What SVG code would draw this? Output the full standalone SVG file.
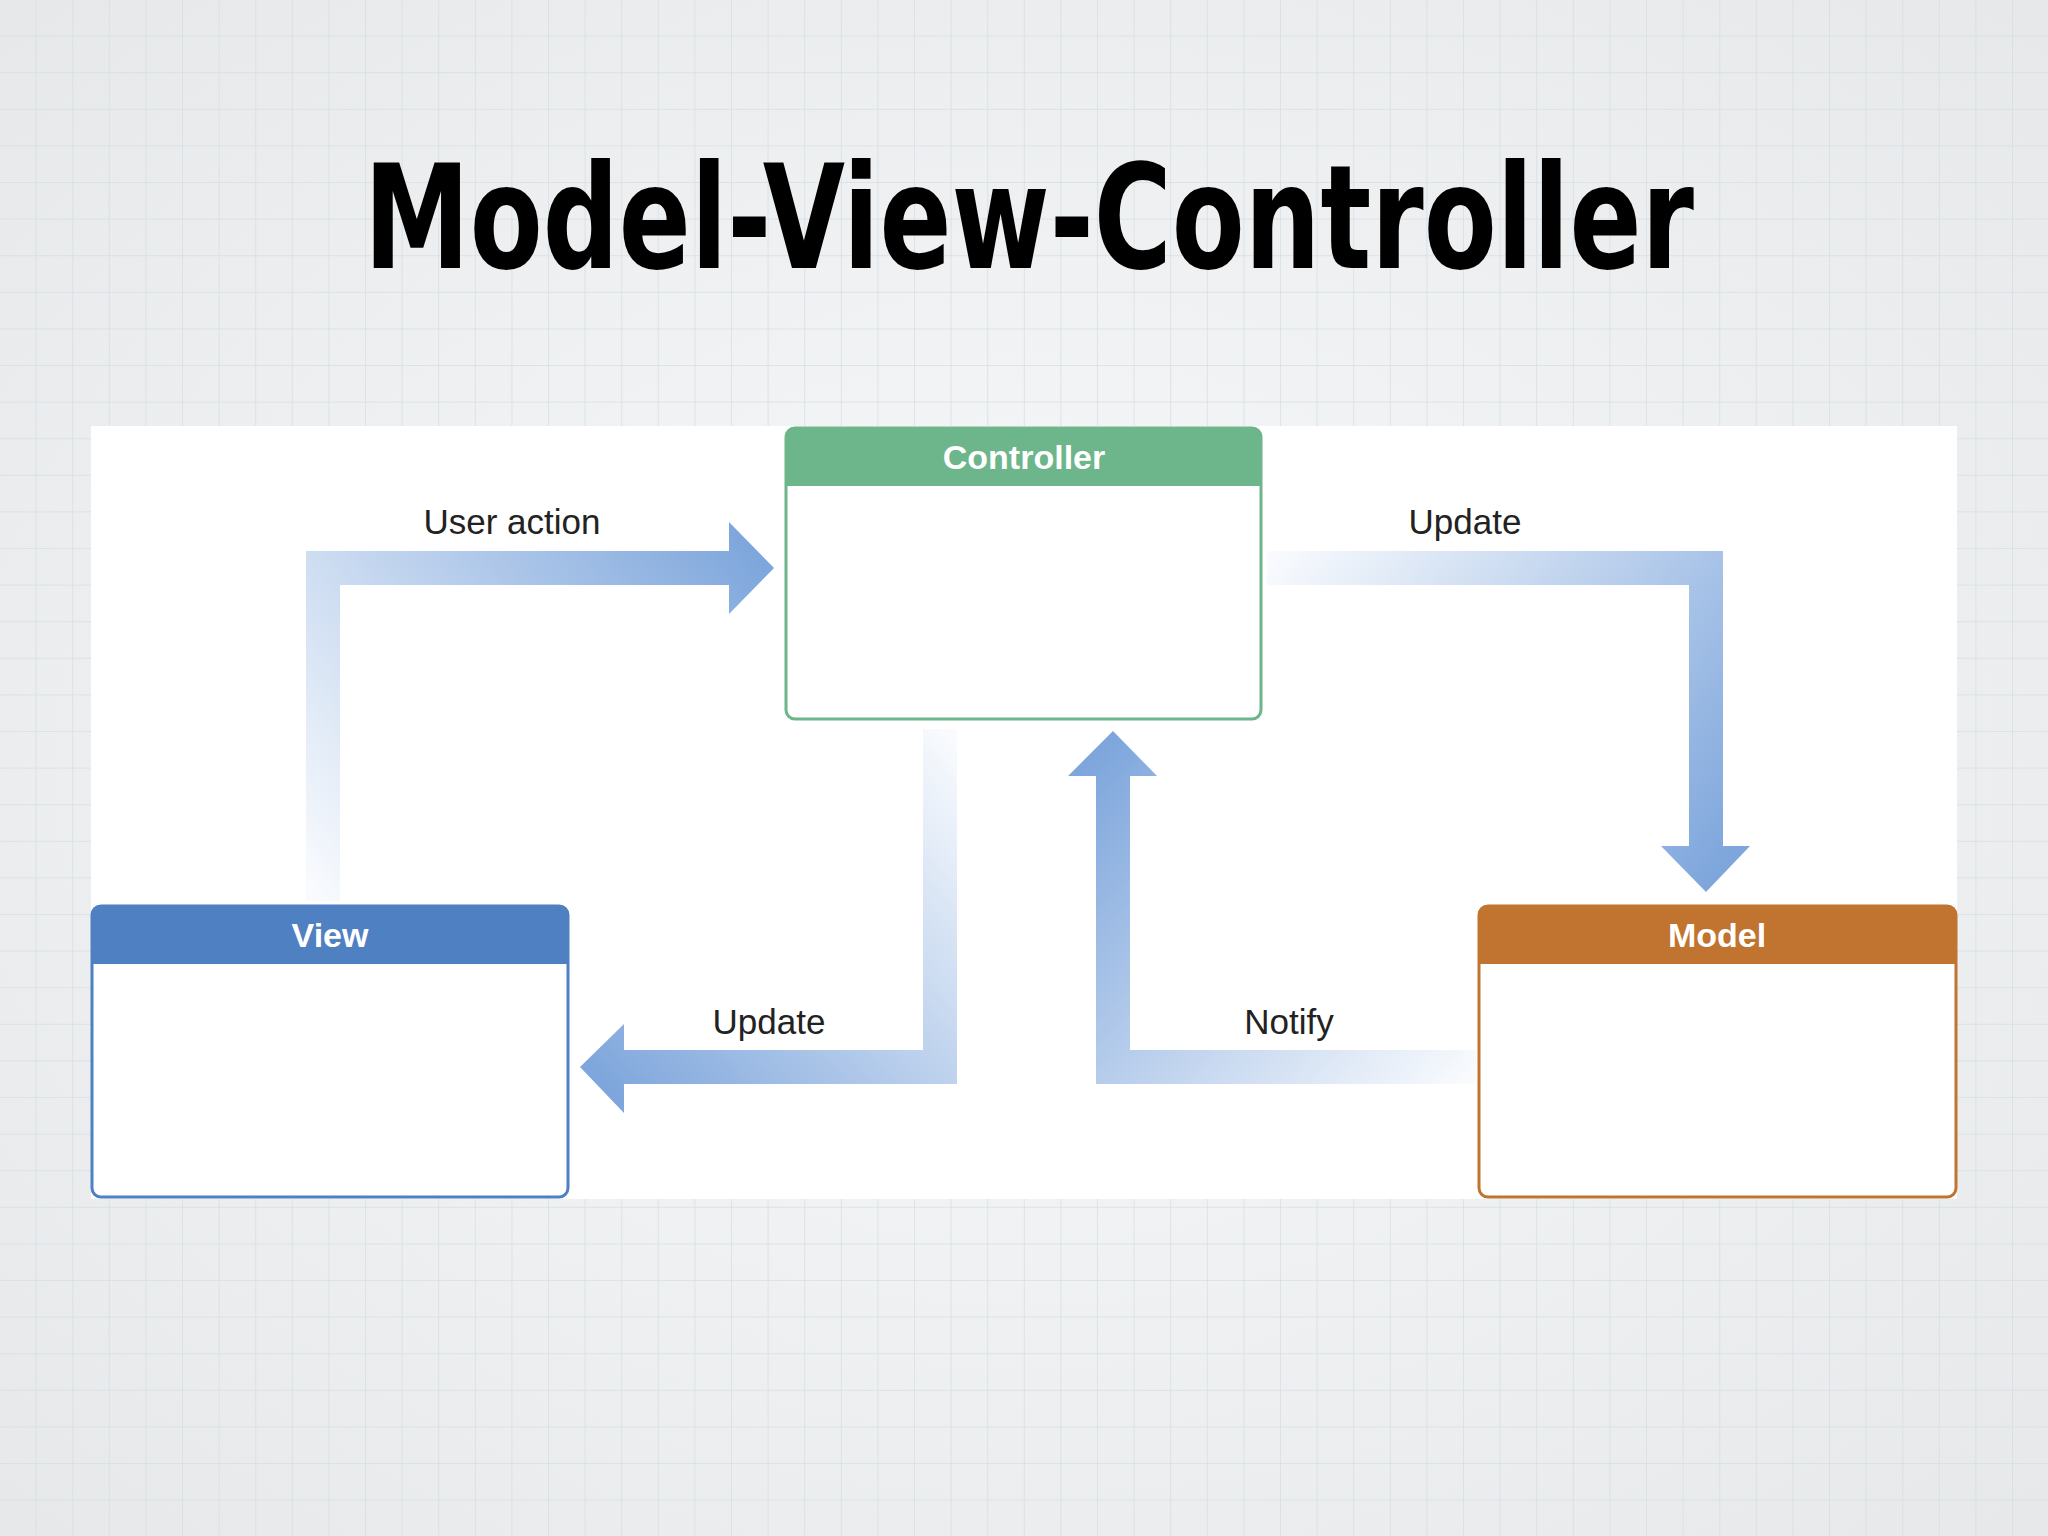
<svg xmlns="http://www.w3.org/2000/svg" width="2048" height="1536" viewBox="0 0 2048 1536">
<defs>
<pattern id="grid" width="36.6" height="36.6" patternUnits="userSpaceOnUse"><path d="M36.6 0V36.6H0" fill="none" stroke="#d3e0e6" stroke-width="1.5"/></pattern>
<radialGradient id="bg" cx="0.5" cy="0.5" r="0.7"><stop offset="0" stop-color="#f8f9fa"/><stop offset="1" stop-color="#e6e8ea"/></radialGradient>
<linearGradient id="g1" gradientUnits="userSpaceOnUse" x1="323" y1="900" x2="770" y2="568"><stop offset="0" stop-color="#7ea6dc" stop-opacity="0.05"/><stop offset="1" stop-color="#7ea6dc"/></linearGradient>
<linearGradient id="g2" gradientUnits="userSpaceOnUse" x1="1267" y1="568" x2="1706" y2="890"><stop offset="0" stop-color="#7ea6dc" stop-opacity="0.05"/><stop offset="1" stop-color="#7ea6dc"/></linearGradient>
<linearGradient id="g3" gradientUnits="userSpaceOnUse" x1="940" y1="729" x2="585" y2="1067"><stop offset="0" stop-color="#7ea6dc" stop-opacity="0.05"/><stop offset="1" stop-color="#7ea6dc"/></linearGradient>
<linearGradient id="g4" gradientUnits="userSpaceOnUse" x1="1476" y1="1067" x2="1113" y2="735"><stop offset="0" stop-color="#7ea6dc" stop-opacity="0.05"/><stop offset="1" stop-color="#7ea6dc"/></linearGradient>
<style>
.lbl{font-family:"Liberation Sans",Arial,sans-serif;font-size:35px;fill:#222;text-anchor:middle}
.hdr{font-family:"Liberation Sans",Arial,sans-serif;font-size:34px;font-weight:bold;fill:#fff;text-anchor:middle}
.box{fill:#fff;stroke-width:3}
</style>
</defs>
<rect width="2048" height="1536" fill="url(#bg)"/>
<rect width="2048" height="1536" fill="url(#grid)"/>
<text x="1029" y="268" font-family="DejaVu Sans Condensed, sans-serif" font-weight="bold" font-size="145" text-anchor="middle" textLength="1330" lengthAdjust="spacingAndGlyphs" fill="#000">Model-View-Controller</text>
<rect x="91" y="426" width="1866" height="773" fill="#fff"/>
<g id="connectors">
<polygon fill="url(#g1)" points="306,901 306,551 729,551 729,522 774,568 729,614 729,585 340,585 340,901"/>
<polygon fill="url(#g2)" points="1267,551 1723,551 1723,846 1750,846 1706,892 1661,846 1689,846 1689,585 1267,585"/>
<polygon fill="url(#g3)" points="923,729 957,729 957,1084 624,1084 624,1113 580,1067 624,1024 624,1050 923,1050"/>
<polygon fill="url(#g4)" points="1476,1050 1476,1084 1096,1084 1096,776 1068,776 1113,731 1157,776 1130,776 1130,1050"/>
<text class="lbl" x="512" y="534">User action</text>
<text class="lbl" x="1465" y="534">Update</text>
<text class="lbl" x="769" y="1034">Update</text>
<text class="lbl" x="1289" y="1034">Notify</text>
</g>
<g id="controller">
<rect class="box" x="786" y="428" width="475" height="291" rx="9" stroke="#6db58a"/>
<path d="M786 486V437a9 9 0 0 1 9-9H1252a9 9 0 0 1 9 9V486Z" fill="#6db58a"/>
<text class="hdr" x="1024" y="469">Controller</text>
</g>
<g id="view">
<rect class="box" x="92" y="906" width="476" height="291" rx="9" stroke="#4f80c2"/>
<path d="M92 964V915a9 9 0 0 1 9-9H559a9 9 0 0 1 9 9V964Z" fill="#4f80c2"/>
<text class="hdr" x="330" y="947">View</text>
</g>
<g id="model">
<rect class="box" x="1479" y="906" width="477" height="291" rx="9" stroke="#c07430"/>
<path d="M1479 964V915a9 9 0 0 1 9-9H1947a9 9 0 0 1 9 9V964Z" fill="#c07430"/>
<text class="hdr" x="1717" y="947">Model</text>
</g>
</svg>
